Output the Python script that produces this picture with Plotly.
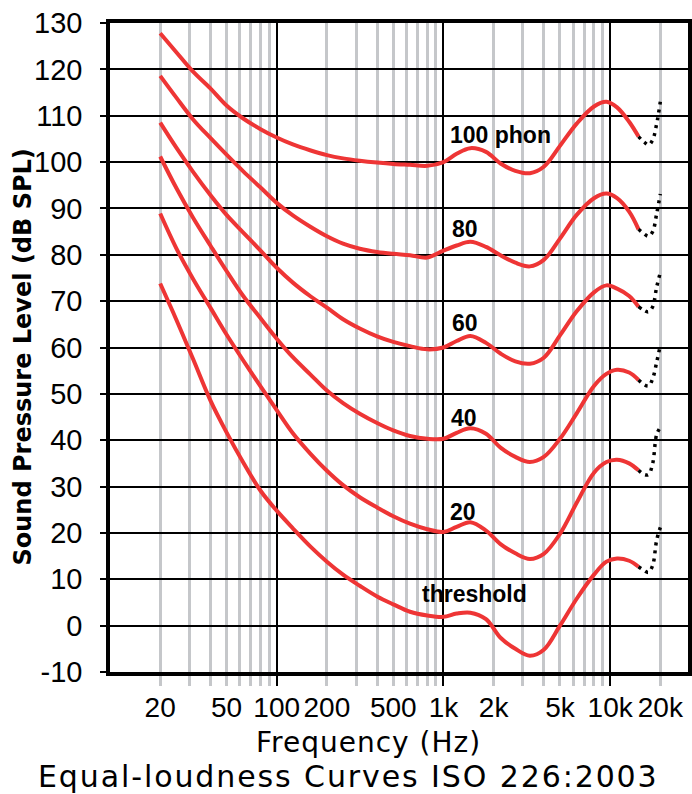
import plotly.graph_objects as go

# ---------------- data ----------------
freq = [20, 25, 31.5, 40, 50, 63, 80, 100, 125, 160, 200, 250, 315, 400, 500, 630,
        800, 1000, 1200, 1450, 1800, 2200, 2700, 3300, 4000, 5000, 6300, 8000,
        9500, 11000, 13000, 14800]

threshold = [73.8, 66.0, 57.5, 48.6, 41.7, 35.2, 29.1, 24.8, 21.0, 17.0, 13.8, 11.0,
             8.6, 6.3, 4.6, 3.0, 2.2, 1.9, 2.6, 2.8, 1.4, -2.6, -5.0, -6.5, -5.2, 0.0,
             5.8, 11.0, 13.8, 14.5, 14.0, 12.7]
phon20 = [88.9, 81.4, 74.8, 68.6, 62.8, 57.2, 51.6, 46.5, 41.5, 37.0, 33.4, 30.3,
          27.7, 25.5, 23.6, 22.0, 20.8, 20.2, 21.3, 22.3, 20.5, 17.6, 15.6, 14.4,
          15.5, 19.8, 26.5, 33.0, 35.3, 35.8, 35.0, 33.5]
phon40 = [101.2, 94.4, 88.0, 82.0, 76.5, 71.1, 66.3, 61.9, 57.9, 54.1, 50.7, 48.0,
          45.7, 43.7, 42.1, 40.9, 40.3, 40.3, 41.6, 42.6, 41.4, 38.4, 36.4, 35.3,
          36.4, 40.3, 45.8, 51.7, 54.3, 55.2, 54.6, 53.0]
phon60 = [108.5, 103.1, 97.9, 92.9, 88.6, 84.8, 80.9, 77.2, 74.0, 71.0, 68.6, 66.1,
          64.1, 62.4, 61.2, 60.3, 59.6, 60.0, 61.4, 62.5, 61.0, 58.7, 57.0, 56.5,
          57.8, 62.6, 67.8, 71.9, 73.4, 72.7, 71.1, 68.8]
phon80 = [118.6, 113.9, 109.2, 105.2, 101.6, 98.0, 94.5, 91.2, 88.5, 86.0, 84.0, 82.4,
          81.3, 80.6, 80.2, 79.9, 79.4, 80.9, 82.0, 82.8, 81.7, 79.9, 78.3, 77.5,
          78.9, 83.5, 88.6, 92.2, 93.2, 92.2, 89.3, 85.5]
phon100 = [127.8, 123.7, 119.5, 115.9, 112.2, 109.4, 107.1, 105.3, 103.8, 102.5, 101.5,
           100.8, 100.3, 99.9, 99.6, 99.4, 99.2, 100.0, 101.8, 103.0, 102.2, 99.7,
           98.1, 97.6, 99.0, 103.5, 108.3, 112.0, 113.0, 111.8, 108.7, 105.5]

# dotted extrapolation above ~15 kHz
freq_ext = [14800, 16000, 17000, 18000, 19000, 20000]
threshold_ext = [12.7, 11.9, 11.5, 13.0, 18.4, 21.2]
phon20_ext = [33.5, 32.6, 32.6, 35.0, 41.2, 42.8]
phon40_ext = [53.0, 52.0, 51.7, 53.3, 56.8, 60.5]
phon60_ext = [68.8, 68.0, 67.7, 68.8, 73.0, 76.2]
phon80_ext = [85.5, 84.5, 84.0, 85.0, 88.8, 93.1]
phon100_ext = [105.5, 104.3, 103.7, 104.8, 108.2, 113.0]

curve_labels = ["threshold", "20", "40", "60", "80", "100 phon"]

x_tick_vals = [20, 50, 100, 200, 500, 1000, 2000, 5000, 10000, 20000]
x_tick_text = ["20", "50", "100", "200", "500", "1k", "2k", "5k", "10k", "20k"]
y_tick_vals = list(range(-10, 131, 10))
y_tick_text = [str(v) for v in y_tick_vals]

# gridline positions
gray_lines = [20, 30, 40, 50, 60, 70, 80, 90, 200, 300, 400, 500, 600, 700, 800, 900,
              2000, 3000, 4000, 5000, 6000, 7000, 8000, 9000, 20000]
black_lines = [100, 1000, 10000]

# ---------------- styling ----------------
RED = "#EE3535"
GRAY = "#C5C7CA"
TICK_FONT = dict(family="Liberation Sans, Arial, sans-serif", size=28, color="black")
LABEL_FONT = dict(family="Liberation Sans, Arial, sans-serif", size=23, color="black")

main = [threshold, phon20, phon40, phon60, phon80, phon100]
ext = [threshold_ext, phon20_ext, phon40_ext, phon60_ext, phon80_ext, phon100_ext]

fig = go.Figure()
for name, vals in zip(curve_labels, main):
    fig.add_trace(go.Scatter(x=freq, y=vals, mode="lines", name=name,
                             line=dict(color=RED, width=4, shape="spline"),
                             showlegend=False, hoverinfo="skip"))
for name, vals in zip(curve_labels, ext):
    fig.add_trace(go.Scatter(x=freq_ext, y=vals, mode="lines", name=name + " (ext)",
                             xaxis="x2",
                             line=dict(color="black", width=3.5, shape="spline",
                                       dash="3px,5px"),
                             showlegend=False, hoverinfo="skip"))

xrange = [1.0, 4.467]

fig.update_layout(
    width=692, height=794,
    margin=dict(l=110, r=4, t=23, b=122, autoexpand=False),
    paper_bgcolor="white", plot_bgcolor="white",
    xaxis=dict(type="log", range=xrange, tickmode="array", tickvals=gray_lines,
               showticklabels=False, showgrid=True, gridcolor=GRAY, gridwidth=3,
               ticks="outside", ticklen=10, tickwidth=3, tickcolor=GRAY,
               minor=dict(tickmode="array", tickvals=black_lines, showgrid=True,
                          gridcolor="black", gridwidth=1.5, ticks="outside",
                          ticklen=10, tickwidth=1.5, tickcolor="black"),
               showline=True, mirror=True, linewidth=3.5, linecolor="black",
               zeroline=False, automargin=False),
    xaxis2=dict(type="log", range=xrange, overlaying="x", anchor="y", side="bottom",
                tickmode="array", tickvals=x_tick_vals, ticktext=x_tick_text,
                tickangle=0, showgrid=False, ticks="", tickfont=TICK_FONT,
                ticklabelstandoff=16, showline=False, zeroline=False,
                automargin=False),
    yaxis=dict(range=[-10, 130], tickmode="array", tickvals=y_tick_vals,
               ticktext=y_tick_text,
               showgrid=True, gridcolor="black", gridwidth=1.5,
               ticks="outside", ticklen=6, tickwidth=1.5, tickcolor="black",
               tickfont=dict(TICK_FONT, size=29), ticklabelstandoff=12,
               showline=True, mirror=True, linewidth=3.5, linecolor="black",
               zeroline=False, automargin=False),
)

# curve labels (data coords; x in log10 units for the log axis)
label_pos = [(2.860, 6.8), (3.028, 24.6), (3.034, 44.9), (3.040, 65.3),
             (3.040, 85.5), (3.026, 105.8)]
for text, (lx, ly) in zip(curve_labels, label_pos):
    fig.add_annotation(x=lx, y=ly, xref="x", yref="y", text="<b>%s</b>" % text,
                       showarrow=False, xanchor="left", yanchor="middle",
                       font=LABEL_FONT)

fig.add_annotation(x=0.4464, y=-0.1079, xref="paper", yref="paper",
                   text="<span style='letter-spacing:1px'>Frequency (Hz)</span>",
                   showarrow=False, xanchor="center", yanchor="middle",
                   borderpad=0, borderwidth=0,
                   font=dict(family="DejaVu Sans, sans-serif", size=28, color="black"))
fig.add_annotation(x=0.4126, y=-0.1610, xref="paper", yref="paper",
                   text="<span style='letter-spacing:1.9px'>"
                        "Equal-loudness Curves ISO 226:2003</span>",
                   showarrow=False, xanchor="center", yanchor="middle",
                   borderpad=0, borderwidth=0,
                   font=dict(family="DejaVu Sans, sans-serif", size=30, color="black"))
fig.add_annotation(x=-0.1505, y=0.4846, xref="paper", yref="paper",
                   text="<b>Sound Pressure Level (dB SPL)</b>", showarrow=False,
                   textangle=-90, xanchor="center", yanchor="middle",
                   font=dict(family="DejaVu Sans, sans-serif", size=24, color="black"))

fig.write_html("out.html",
               config={"displayModeBar": False},
               post_script="document.body.style.margin='0';"
                           "document.body.style.overflow='hidden';")
